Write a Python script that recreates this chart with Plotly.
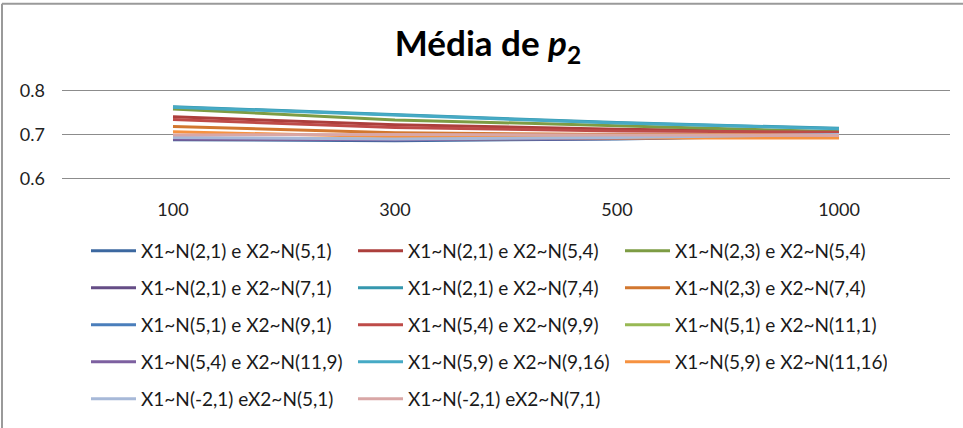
import plotly.graph_objects as go

# Sample sizes (category axis)
sizes = ["100", "300", "500", "1000"]

# Mean of p2 for each pair of normal distributions
names = [
    "X1~N(2,1) e X2~N(5,1)",
    "X1~N(2,1) e X2~N(5,4)",
    "X1~N(2,3) e X2~N(5,4)",
    "X1~N(2,1) e X2~N(7,1)",
    "X1~N(2,1) e X2~N(7,4)",
    "X1~N(2,3) e X2~N(7,4)",
    "X1~N(5,1) e X2~N(9,1)",
    "X1~N(5,4) e X2~N(9,9)",
    "X1~N(5,1) e X2~N(11,1)",
    "X1~N(5,4) e X2~N(11,9)",
    "X1~N(5,9) e X2~N(9,16)",
    "X1~N(5,9) e X2~N(11,16)",
    "X1~N(-2,1) eX2~N(5,1)",
    "X1~N(-2,1) eX2~N(7,1)",
]

s01 = [0.688, 0.686, 0.690, 0.698]
s02 = [0.740, 0.722, 0.712, 0.706]
s03 = [0.758, 0.733, 0.720, 0.706]
s04 = [0.690, 0.688, 0.691, 0.699]
s05 = [0.763, 0.745, 0.727, 0.714]
s06 = [0.718, 0.704, 0.700, 0.699]
s07 = [0.692, 0.688, 0.692, 0.699]
s08 = [0.734, 0.716, 0.708, 0.705]
s09 = [0.691, 0.689, 0.692, 0.699]
s10 = [0.690, 0.688, 0.691, 0.699]
s11 = [0.762, 0.744, 0.726, 0.713]
s12 = [0.706, 0.695, 0.692, 0.692]
s13 = [0.693, 0.690, 0.693, 0.700]
s14 = [0.699, 0.700, 0.699, 0.698]

series = [s01, s02, s03, s04, s05, s06, s07, s08, s09, s10, s11, s12, s13, s14]

colors = [
    "#3C68A0", "#AC3F3C", "#7D9C44", "#654D86", "#3597AE", "#D2772F",
    "#4A7EBB", "#BE4B48", "#98B954", "#7D60A0", "#46AAC5", "#F69240",
    "#A7B9D8", "#D9A7A6",
]

# page and plot-area geometry (pixels); y range padded so the 0.6 and
# 0.8 gridlines sit inside the plot area
W, H = 963, 428
L, R, T, B = 62, 13, 86, 243
pw, ph = W - L - R, H - T - B


def px_x(px):
    return (px - L) / pw


def px_y(py):
    return (H - B - py) / ph


FONT = "Lato, Open Sans, sans-serif"

fig = go.Figure()
legend_ids = ["legend", "legend2", "legend3", "legend4", "legend5"]
for i, (nm, vals, col) in enumerate(zip(names, series, colors)):
    fig.add_trace(go.Scatter(
        x=sizes, y=vals, name=nm, mode="lines",
        line=dict(color=col, width=3),
        legend=legend_ids[i // 3],
    ))

# one horizontal legend per row, three entries each
legend_font = dict(family=FONT, size=19, color="#1a1a1a")
row_y = [251, 288, 325, 362, 399]
legends = {}
for k, lid in enumerate(legend_ids):
    legends[lid] = dict(
        orientation="h", xref="container", yref="container",
        x=86 / W, xanchor="left",
        y=1 - row_y[k] / H, yanchor="middle",
        entrywidth=207, entrywidthmode="pixels",
        itemwidth=45, font=legend_font,
        bgcolor="rgba(0,0,0,0)", traceorder="normal",
    )

fig.update_layout(
    width=W, height=H,
    margin=dict(l=L, r=R, t=T, b=B),
    paper_bgcolor="white", plot_bgcolor="white",
    showlegend=True,
    title=dict(
        text="<b>Média de <i>p</i><sub>2</sub></b>",
        x=488 / W, xanchor="center", y=1 - 44 / H, yanchor="middle",
        font=dict(family=FONT, size=35, color="#000"),
    ),
    xaxis=dict(
        type="category", range=[-0.5, 3.5], showgrid=False,
        showline=False, zeroline=False, ticks="",
        ticklabelstandoff=14,
        tickfont=dict(family=FONT, size=18, color="#222"),
    ),
    yaxis=dict(
        range=[0.59, 0.81], tickvals=[0.6, 0.7, 0.8],
        ticktext=["0.6", "0.7", "0.8"],
        showgrid=True, gridcolor="#8c8c8c", gridwidth=1,
        zeroline=False, showline=False, ticks="",
        ticklabelstandoff=16,
        tickfont=dict(family=FONT, size=18, color="#222"),
    ),
    shapes=[
        dict(type="line", xref="paper", yref="paper",
             x0=px_x(2), x1=px_x(975), y0=px_y(2), y1=px_y(2),
             line=dict(color="#9a9a9a", width=2)),
        dict(type="line", xref="paper", yref="paper",
             x0=px_x(2), x1=px_x(2), y0=px_y(2), y1=px_y(440),
             line=dict(color="#9a9a9a", width=2)),
    ],
    **legends,
)

fig.write_html("out.html")
